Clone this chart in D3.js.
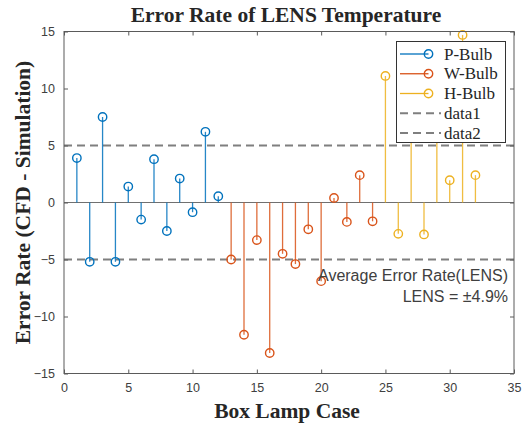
<!DOCTYPE html>
<html>
<head>
<meta charset="utf-8">
<script src="https://cdn.jsdelivr.net/npm/d3@7"></script>
<style>
  html, body { margin: 0; padding: 0; background: #fff; }
  svg { display: block; }
</style>
</head>
<body>
<svg id="chart" width="528" height="426"></svg>
<script>
// case numbers and error rates (%)
const pCases = [1, 2, 3, 4, 5, 6, 7, 8, 9, 10, 11, 12];
const pBulb  = [3.9, -5.2, 7.5, -5.2, 1.4, -1.5, 3.8, -2.5, 2.1, -0.85, 6.2, 0.55];
const wCases = [13, 14, 15, 16, 17, 18, 19, 20, 21, 22, 23, 24];
const wBulb  = [-5.0, -11.6, -3.3, -13.2, -4.5, -5.4, -2.35, -6.9, 0.4, -1.7, 2.4, -1.65];
const hCases = [25, 26, 27, 28, 29, 30, 31, 32];
const hBulb  = [11.1, -2.75, 8.5, -2.8, 9.5, 1.95, 14.7, 2.4];
const limits = [5, -5];          // data1, data2
const xTicks = [0, 5, 10, 15, 20, 25, 30, 35];
const yTicks = [-15, -10, -5, 0, 5, 10, 15];

const series = [
  { name: 'P-Bulb', x: pCases, y: pBulb, color: '#0072BD' },
  { name: 'W-Bulb', x: wCases, y: wBulb, color: '#D95319' },
  { name: 'H-Bulb', x: hCases, y: hBulb, color: '#EDB120' }
];

const svg = d3.select('#chart');
const m = { left: 64, right: 514, top: 31.5, bottom: 373.5 };

const x = d3.scaleLinear().domain([0, 35]).range([m.left, m.right]);
const y = d3.scaleLinear().domain([-15, 15]).range([m.bottom, m.top]);

const axisColor = '#5a5a5a';
const tickFont = '"Liberation Sans", Arial, sans-serif';
const serif = '"Liberation Serif", "Times New Roman", serif';

// baseline
svg.append('line')
  .attr('x1', x(0)).attr('x2', x(35))
  .attr('y1', y(0)).attr('y2', y(0))
  .attr('stroke', '#707070').attr('stroke-width', 1.2);

// dashed limit lines
svg.append('g').selectAll('line')
  .data(limits)
  .join('line')
  .attr('x1', x(0)).attr('x2', x(35))
  .attr('y1', d => y(d)).attr('y2', d => y(d))
  .attr('stroke', '#7f7f7f')
  .attr('stroke-width', 2)
  .attr('stroke-dasharray', '8,5');

// stems
series.forEach(s => {
  const pts = s.x.map((c, i) => ({ c, v: s.y[i] }));
  const g = svg.append('g');
  g.selectAll('line')
    .data(pts)
    .join('line')
    .attr('x1', d => x(d.c)).attr('x2', d => x(d.c))
    .attr('y1', y(0)).attr('y2', d => y(d.v))
    .attr('stroke', s.color).attr('stroke-width', 1.3).attr('stroke-opacity', 0.85);
  g.selectAll('circle')
    .data(pts)
    .join('circle')
    .attr('cx', d => x(d.c)).attr('cy', d => y(d.v))
    .attr('r', 4.2)
    .attr('fill', 'none')
    .attr('stroke', s.color).attr('stroke-width', 1.4);
});

// box + ticks
svg.append('rect')
  .attr('x', m.left).attr('y', m.top)
  .attr('width', m.right - m.left).attr('height', m.bottom - m.top)
  .attr('fill', 'none').attr('stroke', axisColor).attr('stroke-width', 1);

const xAxis = svg.append('g').attr('transform', `translate(0,${m.bottom})`)
  .call(d3.axisBottom(x).tickValues(xTicks).tickSizeInner(-4).tickSizeOuter(0).tickPadding(10));
const xAxisTop = svg.append('g').attr('transform', `translate(0,${m.top})`)
  .call(d3.axisTop(x).tickValues(xTicks).tickSizeInner(-4).tickSizeOuter(0).tickFormat(''));
const yAxis = svg.append('g').attr('transform', `translate(${m.left},0)`)
  .call(d3.axisLeft(y).tickValues(yTicks).tickSizeInner(-4).tickSizeOuter(0).tickPadding(9));
const yAxisRight = svg.append('g').attr('transform', `translate(${m.right},0)`)
  .call(d3.axisRight(y).tickValues(yTicks).tickSizeInner(-4).tickSizeOuter(0).tickFormat(''));

[xAxis, xAxisTop, yAxis, yAxisRight].forEach(a => {
  a.select('.domain').remove();
  a.selectAll('line').attr('stroke', axisColor);
  a.selectAll('text').attr('fill', '#404040').style('font-family', tickFont).style('font-size', '12.5px');
});

// title and axis labels
svg.append('text')
  .attr('x', 286).attr('y', 22)
  .attr('text-anchor', 'middle')
  .style('font-family', serif).style('font-weight', 'bold').style('font-size', '21.5px')
  .attr('fill', '#262626')
  .text('Error Rate of LENS Temperature');

svg.append('text')
  .attr('x', 287).attr('y', 418)
  .attr('text-anchor', 'middle')
  .style('font-family', serif).style('font-weight', 'bold').style('font-size', '21.5px')
  .attr('fill', '#262626')
  .text('Box Lamp Case');

svg.append('text')
  .attr('transform', `translate(30,${(m.top + m.bottom) / 2}) rotate(-90)`)
  .attr('text-anchor', 'middle')
  .style('font-family', serif).style('font-weight', 'bold').style('font-size', '21.5px')
  .attr('fill', '#262626')
  .text('Error Rate (CFD - Simulation)');

// annotation
const note = svg.append('text')
  .attr('text-anchor', 'end')
  .style('font-family', tickFont).style('font-size', '16px')
  .attr('fill', '#404040');
note.append('tspan').attr('x', 508).attr('y', 281).text('Average Error Rate(LENS)');
note.append('tspan').attr('x', 508).attr('y', 302).text('LENS = ±4.9%');

// legend
const leg = svg.append('g');
leg.append('rect')
  .attr('x', 396.5).attr('y', 41.5).attr('width', 109).attr('height', 101)
  .attr('fill', '#fff').attr('stroke', '#333').attr('stroke-width', 1);

const legItems = series.map(s => ({ name: s.name, color: s.color, dash: false }))
  .concat(limits.map((d, i) => ({ name: 'data' + (i + 1), color: '#7f7f7f', dash: true })));

const rowY = d3.scaleLinear().domain([0, legItems.length - 1]).range([54, 133]);

const row = leg.selectAll('g.item')
  .data(legItems)
  .join('g')
  .attr('class', 'item')
  .attr('transform', (d, i) => `translate(0,${rowY(i)})`);

row.append('line')
  .attr('x1', 400).attr('x2', d => d.dash ? 441 : 428.5)
  .attr('y1', 0).attr('y2', 0)
  .attr('stroke', d => d.color)
  .attr('stroke-width', d => d.dash ? 2 : 1.3)
  .attr('stroke-dasharray', d => d.dash ? '8,5' : null);

row.filter(d => !d.dash).append('circle')
  .attr('cx', 428.5).attr('cy', 0).attr('r', 4.2)
  .attr('fill', 'none').attr('stroke', d => d.color).attr('stroke-width', 1.4);

row.append('text')
  .attr('x', 444).attr('y', 5.5)
  .style('font-family', serif).style('font-size', '17px')
  .attr('fill', '#262626')
  .text(d => d.name);
</script>
</body>
</html>
